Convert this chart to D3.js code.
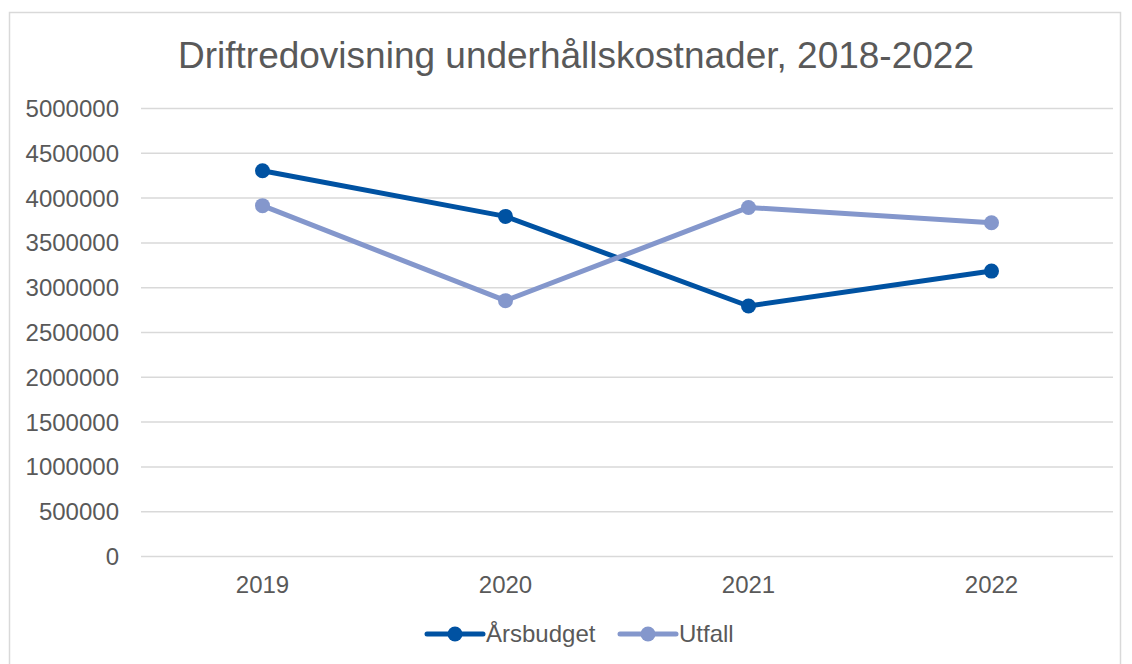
<!DOCTYPE html>
<html>
<head>
<meta charset="utf-8">
<script src="https://cdn.jsdelivr.net/npm/d3@7"></script>
<style>
  body { margin: 0; background: #fff; }
  text { font-family: "Liberation Sans", Arial, sans-serif; fill: #595959; }
</style>
</head>
<body>
<div id="chart-area"></div>
<script>
const years = ['2019', '2020', '2021', '2022'];
const arsbudget = [4300000, 3790000, 2790000, 3180000];
const utfall = [3910000, 2850000, 3890000, 3720000];
const yTicks = [0, 500000, 1000000, 1500000, 2000000, 2500000, 3000000, 3500000, 4000000, 4500000, 5000000];

const series = [
  { name: 'Årsbudget', values: arsbudget, color: '#0052A2' },
  { name: 'Utfall', values: utfall, color: '#8497CC' }
];

const width = 1132;
const height = 664;
const margin = { left: 141, right: 19, top: 108, bottom: 108 };

const svg = d3.select('#chart-area').append('svg')
  .attr('width', width)
  .attr('height', height);

// chart border
svg.append('rect')
  .attr('x', 9.5)
  .attr('y', 12.5)
  .attr('width', 1111)
  .attr('height', 670)
  .attr('fill', '#fff')
  .attr('stroke', '#d9d9d9')
  .attr('stroke-width', 1.5);

svg.append('text')
  .text('Driftredovisning underhållskostnader, 2018-2022')
  .attr('x', 576)
  .attr('y', 68)
  .attr('text-anchor', 'middle')
  .attr('font-size', '37px');

const scaleX = d3.scaleBand()
  .domain(years)
  .range([margin.left, width - margin.right]);

const scaleY = d3.scaleLinear()
  .domain([0, 5000000])
  .range([height - margin.bottom, margin.top]);

// gridlines + y labels
const axisY = d3.axisLeft(scaleY)
  .tickValues(yTicks)
  .tickSize(-(width - margin.left - margin.right))
  .tickFormat(d => d3.format('d')(d));

const gy = svg.append('g')
  .attr('transform', `translate(${margin.left}, 0)`)
  .call(axisY);
gy.select('.domain').remove();
gy.selectAll('line').attr('stroke', '#d9d9d9').attr('stroke-width', 1.5);
gy.selectAll('text')
  .attr('x', -22)
  .attr('dy', '0.35em')
  .attr('font-size', '24px')
  .style('font-family', '"Liberation Sans", Arial, sans-serif')
  .attr('fill', '#595959');

const axisX = d3.axisBottom(scaleX).tickSize(0);
const gx = svg.append('g')
  .attr('transform', `translate(0, ${height - margin.bottom})`)
  .call(axisX);
gx.select('.domain').remove();
gx.selectAll('text')
  .attr('y', 37)
  .attr('dy', 0)
  .attr('font-size', '24px')
  .style('font-family', '"Liberation Sans", Arial, sans-serif')
  .attr('fill', '#595959');

const cx = (d, i) => scaleX(years[i]) + scaleX.bandwidth() / 2;

const line = d3.line()
  .x(cx)
  .y(d => scaleY(d));

series.forEach(s => {
  svg.append('path')
    .datum(s.values)
    .attr('d', line)
    .attr('fill', 'none')
    .attr('stroke', s.color)
    .attr('stroke-width', 5)
    .attr('stroke-linejoin', 'round')
    .attr('stroke-linecap', 'round');

  svg.selectAll(null)
    .data(s.values)
    .enter()
    .append('circle')
      .attr('cx', cx)
      .attr('cy', d => scaleY(d))
      .attr('r', 7.5)
      .attr('fill', s.color);
});

// legend
const legendX = [427, 620];
const legendY = 634;
series.forEach((s, i) => {
  const lg = svg.append('g').attr('transform', `translate(${legendX[i]}, ${legendY})`);
  lg.append('line')
    .attr('x1', 0).attr('x2', 56)
    .attr('y1', 0).attr('y2', 0)
    .attr('stroke', s.color)
    .attr('stroke-width', 5)
    .attr('stroke-linecap', 'round');
  lg.append('circle')
    .attr('cx', 28).attr('cy', 0)
    .attr('r', 7.5)
    .attr('fill', s.color);
  lg.append('text')
    .text(s.name)
    .attr('x', 59)
    .attr('y', 0)
    .attr('dy', '0.35em')
    .attr('font-size', '24px');
});
</script>
</body>
</html>
